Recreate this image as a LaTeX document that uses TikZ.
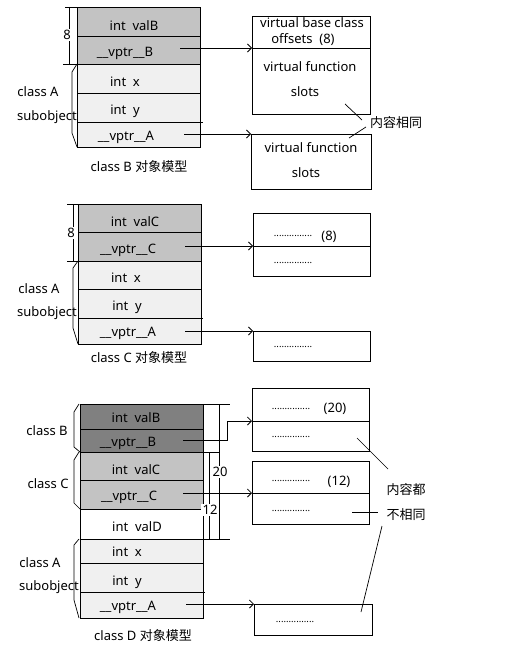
\documentclass[tikz,border=0pt]{standalone}
\usepackage{fontspec}
\setmainfont{Noto Sans}
\newfontfamily\cjk{Noto Sans CJK SC}
\usetikzlibrary{arrows.meta}
\definecolor{gmid}{HTML}{C3C3C3}
\definecolor{glight}{HTML}{F0F0F0}
\definecolor{gdark}{HTML}{808080}
\begin{document}
\begin{tikzpicture}[x=1pt,y=-1pt,
  every node/.style={font=\fontsize{13}{15}\selectfont, inner sep=0pt, outer sep=0pt},
  cellbox/.style={draw, line width=0.8pt, anchor=north west, minimum width=123pt},
  tblbox/.style={draw, line width=0.8pt, anchor=north west},
  dots/.style={font=\fontsize{9.5}{11}\selectfont},
  arr/.style={line width=0.8pt, -{Straight Barb[length=4pt,width=8pt]}},
  ln/.style={line width=0.8pt},
  thin/.style={line width=0.7pt},
  dimlbl/.style={fill=white, inner sep=1.5pt}
]
\useasboundingbox (0,0) rectangle (519,650);

% ===================== class B =====================
\node[cellbox, fill=gmid,   minimum height=29pt] (bc1) at (77,7) {};
\node[cellbox, fill=gmid,   minimum height=28pt] (bc2) at (77,36) {};
\node[cellbox, fill=glight, minimum height=29pt] (bc3) at (77,64) {};
\node[cellbox, fill=glight, minimum height=29pt] (bc4) at (77,93) {};
\node[cellbox, fill=glight, minimum height=25pt] (bc5) at (77,122) {};
\draw[thin] (80,122) -- (203,122);
\node (bt1) at (134,26) {int\ \ valB};
\node (bt2) at (125,53) {\_\_vptr\_\_B};
\node (bt3) at (125,82) {int\ \ x};
\node (bt4) at (125,111) {int\ \ y};
\node (bt5) at (126,137) {\_\_vptr\_\_A};
\draw[thin] (65,7) -- (77,7);
\draw[thin] (63,64) -- (77,64);
\draw[thin] (69,7) -- (69,64);
\node[dimlbl] (b8) at (67,35) {8};
\draw[thin] (77,64) -- (72,72) -- (72,133) -- (77,147);
\node (bA) at (38,92) {class A};
\node (bsub) at (47,117) {subobject};
\node (bcap) at (139,167) {class B {\cjk 对象模型}};

\node[tblbox, minimum width=118pt, minimum height=32pt] (bv1) at (252,16) {};
\node[tblbox, minimum width=118pt, minimum height=66pt] (bv2) at (252,48) {};
\node (bv1a) at (312,23) {virtual base class};
\node (bv1b) at (303,40) {offsets\ \ (8)};
\node (bv2a) at (310,67) {virtual function};
\node (bv2b) at (305,92) {slots};
\node[tblbox, minimum width=120pt, minimum height=55pt] (bw) at (251,134) {};
\node (bwa) at (311,148) {virtual function};
\node (bwb) at (306,173) {slots};
\draw[arr] ([xshift=-20pt]bc2.east |- bv2.north west) -- (bv2.north west);
\draw[arr] ([xshift=-16pt]bc5.east |- bw.north west) -- (bw.north west);
\node (bsame) at (396,123) {\cjk 内容相同};
\draw[thin] (345,104) -- (362,120);
\draw[thin] (349,138) -- (366,127);

% ===================== class C =====================
\node[cellbox, fill=gmid,   minimum height=28pt] (cc1) at (78,204) {};
\node[cellbox, fill=gmid,   minimum height=29pt] (cc2) at (78,232) {};
\node[cellbox, fill=glight, minimum height=28pt] (cc3) at (78,261) {};
\node[cellbox, fill=glight, minimum height=29pt] (cc4) at (78,289) {};
\node[cellbox, fill=glight, minimum height=26pt] (cc5) at (78,318) {};
\draw[thin] (80,318) -- (203,318);
\node (ct1) at (135,222) {int\ \ valC};
\node (ct2) at (128,250) {\_\_vptr\_\_C};
\node (ct3) at (126,278) {int\ \ x};
\node (ct4) at (127,307) {int\ \ y};
\node (ct5) at (128,333) {\_\_vptr\_\_A};
\draw[thin] (67,204) -- (78,204);
\draw[thin] (67,261) -- (78,261);
\draw[thin] (73,204) -- (73,261);
\node[dimlbl] (c8) at (71,233) {8};
\draw[thin] (78,261) -- (73,268) -- (73,328) -- (78,344);
\node (cA) at (39,289) {class A};
\node (csub) at (47,313) {subobject};
\node (ccap) at (139,358) {class C {\cjk 对象模型}};

\node[tblbox, minimum width=117pt, minimum height=33pt] (cv1) at (253,213) {};
\node[tblbox, minimum width=117pt, minimum height=30pt] (cv2) at (253,246) {};
\node[dots] (cv1a) at (293,236) {...............};
\node (cv1b) at (329,237) {(8)};
\node[dots] (cv2a) at (293,263) {...............};
\node[tblbox, minimum width=117pt, minimum height=30pt] (cw) at (253,331) {};
\node[dots] (cwa) at (293,347) {...............};
\draw[arr] ([xshift=-16pt]cc2.east |- cv2.north west) -- (cv2.north west);
\draw[arr] ([xshift=-16pt]cc5.east |- cw.north west) -- (cw.north west);

% ===================== class D =====================
\node[cellbox, fill=gdark,  minimum height=25pt] (dc1) at (80,404) {};
\node[cellbox, fill=gdark,  minimum height=23pt] (dc2) at (80,429) {};
\node[cellbox, fill=gmid,   minimum height=28pt] (dc3) at (80,452) {};
\node[cellbox, fill=gmid,   minimum height=29pt] (dc4) at (80,480) {};
\node[cellbox, fill=white,  minimum height=30pt] (dc5) at (80,509) {};
\node[cellbox, fill=glight, minimum height=24pt] (dc6) at (80,539) {};
\node[cellbox, fill=glight, minimum height=29pt] (dc7) at (80,563) {};
\node[cellbox, fill=glight, minimum height=26pt] (dc8) at (80,592) {};
\draw[thin] (80,592) -- (205,592);
\node (dt1) at (136,418) {int\ \ valB};
\node (dt2) at (128,443) {\_\_vptr\_\_B};
\node (dt3) at (136,470) {int\ \ valC};
\node (dt4) at (129,497) {\_\_vptr\_\_C};
\node (dt5) at (137,527) {int\ \ valD};
\node (dt6) at (127,552) {int\ \ x};
\node (dt7) at (127,582) {int\ \ y};
\node (dt8) at (128,607) {\_\_vptr\_\_A};
\draw[thin] (79,404) -- (74,412) -- (74,447) -- (80,452);
\draw[thin] (79,452) -- (74,460) -- (74,503) -- (80,509);
\draw[thin] (79,539) -- (74,545) -- (74,600) -- (79,618);
\node (dB) at (47,431) {class B};
\node (dC) at (48,484) {class C};
\node (dA) at (40,563) {class A};
\node (dsub) at (49,587) {subobject};
\node (dcap) at (143,636) {class D {\cjk 对象模型}};
% dimensions
\draw[thin] (203,404) -- (230,404);
\draw[thin] (203,452) -- (219,452);
\draw[thin] (203,539) -- (230,539);
\draw[thin] (219,404) -- (219,539);
\draw[thin] (209,452) -- (209,539);
\node[dimlbl] (d20) at (220,472) {20};
\node[dimlbl] (d12) at (210,510) {12};

\node[tblbox, minimum width=117pt, minimum height=33pt] (dv1) at (252,388) {};
\node[tblbox, minimum width=117pt, minimum height=30pt] (dv2) at (252,421) {};
\node[dots] (dv1a) at (291,409) {...............};
\node (dv1b) at (335,409) {(20)};
\node[dots] (dv2a) at (291,437) {...............};
\node[tblbox, minimum width=117pt, minimum height=32pt] (dw1) at (252,461) {};
\node[tblbox, minimum width=117pt, minimum height=31pt] (dw2) at (252,493) {};
\node[dots] (dw1a) at (291,481) {...............};
\node (dw1b) at (339,482) {(12)};
\node[dots] (dw2a) at (291,511) {...............};
\node[tblbox, minimum width=118pt, minimum height=31pt] (dz) at (254,604) {};
\node[dots] (dza) at (295,622) {...............};
\draw[arr] ([xshift=-20pt]dc2.east) -| ([xshift=-25pt]dv2.north west) -- (dv2.north west);
\draw[arr] ([xshift=-20pt]dc4.east |- dw2.north west) -- (dw2.north west);
\draw[arr] ([xshift=-17pt]dc8.east |- dz.north west) -- (dz.north west);
\node (ddiff1) at (406,490) {\cjk 内容都};
\node (ddiff2) at (406,515) {\cjk 不相同};
\draw[thin] (357,438) -- (388,469);
\draw[thin] (352,512) -- (378,512);
\draw[thin] (382,526) -- (361,612);
\end{tikzpicture}
\end{document}
